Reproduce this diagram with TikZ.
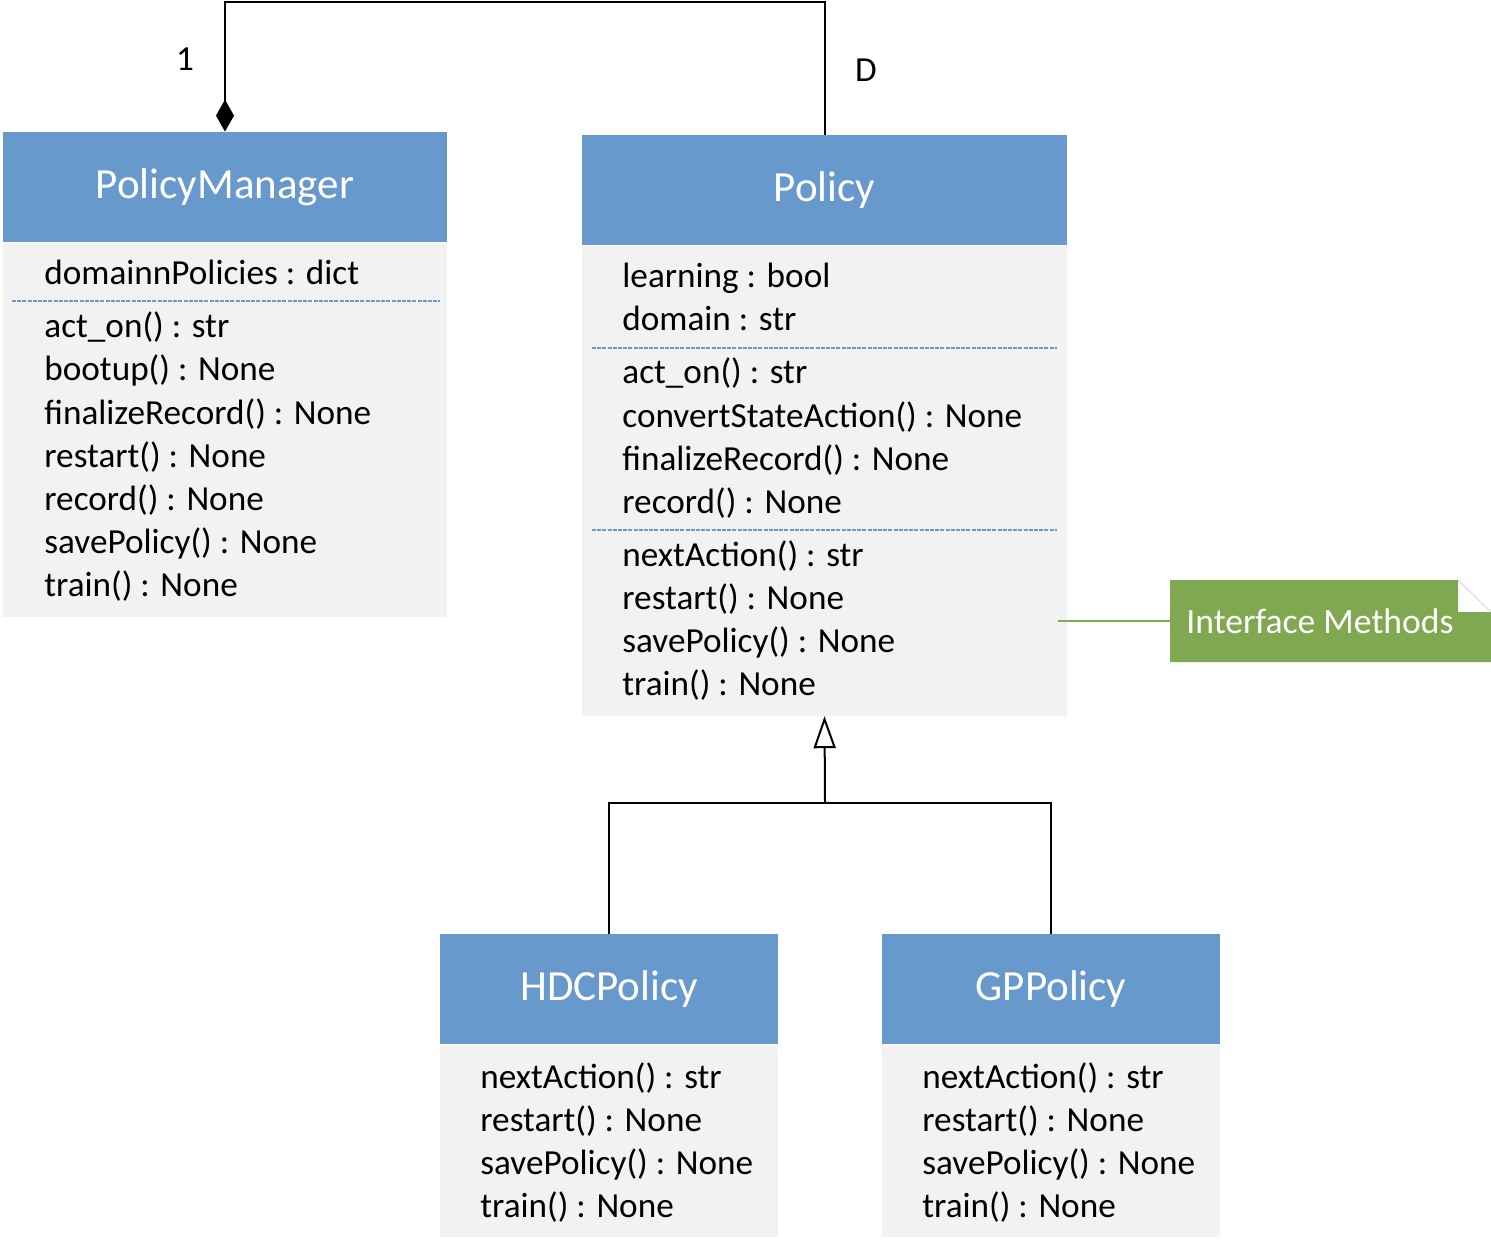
\documentclass[tikz,border=0pt]{standalone}
\usepackage{fontspec}
\setmainfont{Carlito}
\usetikzlibrary{arrows.meta, positioning}
\definecolor{headerblue}{RGB}{103, 153, 204}
\definecolor{bodygray}{RGB}{242, 242, 242}
\definecolor{notegreen}{RGB}{128, 168, 80}

\begin{document}
\begin{tikzpicture}[
    x=0.5pt, y=-0.5pt,
    head/.style={rectangle, fill=headerblue, text=white, inner sep=0pt, font=\fontsize{21.5}{24}\selectfont},
    body/.style={rectangle, fill=bodygray, inner sep=0pt},
    member/.style={anchor=base west, inner sep=0pt, font=\fontsize{17.6}{20}\selectfont},
    sep/.style={headerblue, line width=0.6pt, dash pattern=on 2pt off 0.6pt},
    link/.style={line width=1pt},
    compose/.style={link, -{Diamond[length=16pt, width=9pt]}},
    inherit/.style={link, -{Triangle[open, length=16pt, width=11pt]}}
]
    \useasboundingbox (0,0) rectangle (1491,1240);

    % PolicyManager
    \node[head, minimum width=222pt, minimum height=55pt] (pmhead) at (225,187) {PolicyManager};
    \node[body, minimum width=222pt, minimum height=187pt, below=0pt of pmhead] (pmbody) {};
    \node[member] (pmattr) at (44,285) {domainnPolicies : dict};
    \draw[sep] (12,301) -- (440,301);
    \foreach \m [count=\i] in {act\_on() : str, bootup() : None, finalizeRecord() : None, restart() : None, record() : None, savePolicy() : None, train() : None}
        \node[member] (pm\i) at (44,{338+43*(\i-1)}) {\m};

    % Policy
    \node[head, minimum width=242.5pt, minimum height=55pt] (polhead) at (824.5,190) {Policy};
    \node[body, minimum width=242.5pt, minimum height=235pt, below=0pt of polhead] (polbody) {};
    \node[member] (polattra) at (622,288) {learning : bool};
    \node[member] (polattrb) at (622,331) {domain : str};
    \draw[sep] (592,348) -- (1057,348);
    \foreach \m [count=\i] in {act\_on() : str, convertStateAction() : None, finalizeRecord() : None, record() : None}
        \node[member] (pola\i) at (622,{384+43*(\i-1)}) {\m};
    \draw[sep] (592,530) -- (1057,530);
    \foreach \m [count=\i] in {nextAction() : str, restart() : None, savePolicy() : None, train() : None}
        \node[member] (polb\i) at (622,{566+43*(\i-1)}) {\m};

    % HDCPolicy
    \node[head, minimum width=169pt, minimum height=55pt] (hdchead) at (609,989) {HDCPolicy};
    \node[body, minimum width=169pt, minimum height=96pt, below=0pt of hdchead] (hdcbody) {};
    \foreach \m [count=\i] in {nextAction() : str, restart() : None, savePolicy() : None, train() : None}
        \node[member] (hdc\i) at (480,{1088+43*(\i-1)}) {\m};

    % GPPolicy
    \node[head, minimum width=169pt, minimum height=55pt] (gphead) at (1051,989) {GPPolicy};
    \node[body, minimum width=169pt, minimum height=96pt, below=0pt of gphead] (gpbody) {};
    \foreach \m [count=\i] in {nextAction() : str, restart() : None, savePolicy() : None, train() : None}
        \node[member] (gp\i) at (922,{1088+43*(\i-1)}) {\m};

    % Note
    \fill[notegreen] (1170,580) -- (1458,580) -- (1458,612) -- (1491,612) -- (1491,662) -- (1170,662) -- cycle;
    \draw[black!15, line width=0.5pt] (1458,580) -- (1491,612);
    \node[anchor=west, text=white, inner sep=0pt, font=\fontsize{17.8}{20}\selectfont] (note) at (1186,621) {Interface Methods};
    \coordinate (noteleft) at (1170,621);
    \coordinate (noteend) at (1058,621);
    \draw[notegreen, line width=0.8pt] (noteleft) -- (noteend);

    % Labels
    \node[font=\fontsize{17.6}{20}\selectfont] (lblone) at (185,59) {1};
    \node[font=\fontsize{17.6}{20}\selectfont] (lbld) at (866,70) {D};

    % Connectors
    \coordinate (split) at (825,803);
    \draw[compose] (polhead.north) -- (polhead.north |- 0,2) -| (pmhead.north);
    \draw[link] (hdchead.north) |- (split);
    \draw[link] (gphead.north) |- (split);
    \draw[inherit] (split) -- (polbody.south);

\end{tikzpicture}
\end{document}
